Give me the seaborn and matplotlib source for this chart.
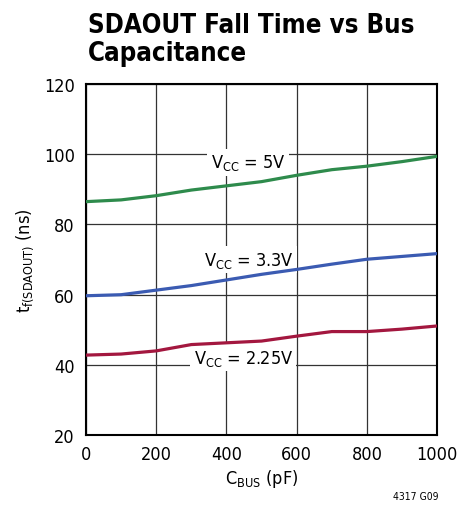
import pandas as pd
import seaborn as sns
from matplotlib import pyplot as plt

# bus capacitance (pF) and fall time (ns)
c_bus = [0, 100, 200, 300, 400, 500, 600, 700, 800, 900, 1000]
tf_5v = [86.5, 87.0, 88.2, 89.8, 91.0, 92.2, 94.0, 95.6, 96.6, 97.9, 99.4]
tf_3v3 = [59.7, 60.0, 61.3, 62.6, 64.2, 65.8, 67.2, 68.7, 70.1, 70.9, 71.7]
tf_2v25 = [42.8, 43.1, 44.0, 45.8, 46.3, 46.8, 48.2, 49.5, 49.5, 50.2, 51.1]

series = ["5V", "3.3V", "2.25V"]
colors = ["#2e8b4c", "#3b5bb2", "#a3173f"]
x_ticks = [0, 200, 400, 600, 800, 1000]
y_ticks = [20, 40, 60, 80, 100, 120]

df = pd.DataFrame({
    "c_bus": c_bus * 3,
    "tf": tf_5v + tf_3v3 + tf_2v25,
    "vcc": [s for s in series for _ in c_bus],
})

sns.set_style("white")
plt.rcParams['font.family'] = ['DejaVu Sans']
plt.rcParams['font.stretch'] = 'condensed'
plt.rcParams['text.color'] = 'black'
plt.rcParams['xtick.color'] = 'black'
plt.rcParams['ytick.color'] = 'black'
plt.rcParams['axes.labelcolor'] = 'black'

fig = plt.figure(figsize=(4.7, 5.06), dpi=100)
ax = fig.add_axes([0.183, 0.138, 0.747, 0.694])

sns.lineplot(data=df, x="c_bus", y="tf", hue="vcc", palette=colors,
             linewidth=2.3, legend=False, ax=ax, zorder=3)

ax.set_xlim(0, 1000)
ax.set_ylim(20, 120)
ax.set_xticks(x_ticks)
ax.set_yticks(y_ticks)
ax.grid(True, color="#333333", linewidth=0.9)
ax.set_axisbelow(True)
for sp in ax.spines.values():
    sp.set_color("black")
    sp.set_linewidth(1.5)
ax.tick_params(labelsize=13, length=0)
ax.tick_params(axis="y", pad=8)
ax.tick_params(axis="x", pad=7)

ax.set_xlabel(r"$\mathregular{C_{BUS}}$ (pF)", fontsize=13, labelpad=3)
ax.set_ylabel(r"$\mathregular{t_{f(SDAOUT)}}$ (ns)", fontsize=13, labelpad=6)

box = dict(facecolor="white", edgecolor="none", pad=2.5)
ax.text(461, 97.7, r"$\mathregular{V_{CC}}$ = 5V", fontsize=13,
        ha="center", va="center", bbox=box, zorder=2)
ax.text(464, 70.0, r"$\mathregular{V_{CC}}$ = 3.3V", fontsize=13,
        ha="center", va="center", bbox=box, zorder=2)
ax.text(448, 42.0, r"$\mathregular{V_{CC}}$ = 2.25V", fontsize=13,
        ha="center", va="center", bbox=box, zorder=2)

fig.text(0.187, 0.974, "SDAOUT Fall Time vs Bus\nCapacitance", fontsize=18.5,
         fontweight="bold", ha="left", va="top", linespacing=1.1)
fig.text(0.932, 0.018, "4317 G09", fontsize=7.5, ha="right", va="center")

fig.savefig("out.png", dpi=100)
